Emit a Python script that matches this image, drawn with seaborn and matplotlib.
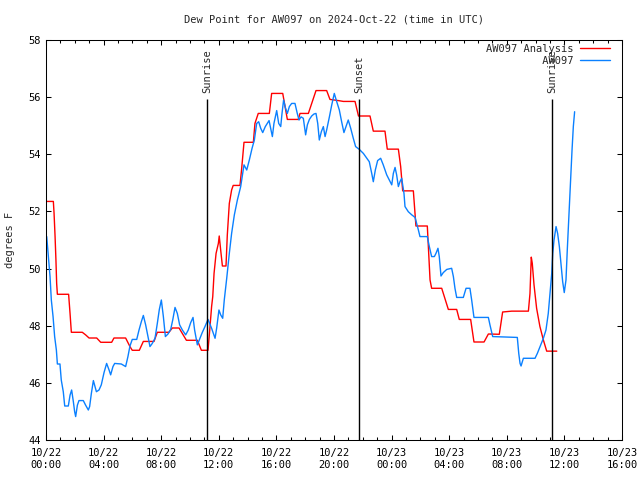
import matplotlib
matplotlib.use('Agg')
import matplotlib.pyplot as plt
import matplotlib.dates as mdates
import seaborn as sns
import pandas as pd

# =============================================================================
# Data (hours after 2024-10-22 00:00 UTC, deg F)

red_hr = [0.05, 0.51, 0.56, 0.63, 0.69, 0.74, 0.79, 1.57, 1.67, 1.76,
          2.52, 2.75, 2.99, 3.52, 3.80, 4.56, 4.72, 5.53, 5.83, 5.99,
          6.48, 6.76, 7.50, 7.73, 8.54, 8.77, 9.24, 9.75, 10.51, 10.79,
          11.25, 11.37, 11.50, 11.58, 11.67, 11.81, 11.97, 12.03, 12.13, 12.25,
          12.50, 12.59, 12.73, 12.89, 13.00, 13.47, 13.59, 13.75, 14.40, 14.51,
          14.74, 15.51, 15.67, 16.44, 16.76, 17.52, 17.64, 18.22, 18.75, 19.49,
          19.72, 20.30, 20.65, 21.46, 21.70, 22.50, 22.73, 23.54, 23.70, 24.47,
          24.63, 24.77, 25.51, 25.69, 26.48, 26.67, 26.78, 27.48, 27.94, 28.52,
          28.70, 29.49, 29.72, 30.42, 30.72, 31.48, 31.71, 32.34, 33.50, 33.61,
          33.70, 33.77, 33.89, 34.07, 34.30, 34.54, 34.77, 35.47]
red_val = [52.35, 52.35, 51.93, 51.12, 50.30, 49.48, 49.10, 49.10, 48.43, 47.77,
           47.77, 47.68, 47.57, 47.57, 47.42, 47.42, 47.57, 47.57, 47.27, 47.14,
           47.14, 47.45, 47.45, 47.77, 47.77, 47.92, 47.92, 47.49, 47.49, 47.14,
           47.14, 47.85, 48.67, 49.02, 49.83, 50.53, 50.88, 51.14, 50.65, 50.09,
           50.09, 51.17, 52.28, 52.75, 52.91, 52.91, 53.51, 54.42, 54.42, 55.08,
           55.43, 55.43, 56.13, 56.13, 55.22, 55.22, 55.43, 55.43, 56.23, 56.23,
           55.92, 55.88, 55.85, 55.85, 55.34, 55.34, 54.81, 54.81, 54.18, 54.18,
           53.57, 52.72, 52.72, 51.49, 51.49, 49.60, 49.31, 49.31, 48.57, 48.57,
           48.22, 48.22, 47.43, 47.43, 47.71, 47.70, 48.48, 48.51, 48.51, 49.13,
           50.40, 50.18, 49.43, 48.61, 47.97, 47.50, 47.11, 47.11]

blue_hr = [0.05, 0.14, 0.28, 0.37, 0.49, 0.60, 0.72, 0.79, 0.97, 1.06,
           1.20, 1.30, 1.55, 1.67, 1.78, 1.90, 1.99, 2.06, 2.18, 2.29,
           2.59, 2.75, 2.94, 3.03, 3.15, 3.29, 3.50, 3.68, 3.84, 4.03,
           4.21, 4.38, 4.49, 4.65, 4.77, 5.23, 5.53, 5.69, 5.83, 5.99,
           6.30, 6.46, 6.62, 6.76, 6.92, 7.08, 7.22, 7.38, 7.57, 7.73,
           7.87, 8.01, 8.15, 8.29, 8.47, 8.66, 8.80, 8.96, 9.12, 9.28,
           9.47, 9.70, 9.88, 10.05, 10.21, 10.32, 10.51, 10.69, 10.85, 11.04,
           11.25, 11.50, 11.74, 11.85, 12.01, 12.13, 12.27, 12.38, 12.55, 12.73,
           12.89, 13.08, 13.29, 13.52, 13.75, 13.94, 14.12, 14.31, 14.47, 14.63,
           14.77, 14.91, 15.05, 15.23, 15.49, 15.60, 15.72, 15.83, 16.02, 16.16,
           16.30, 16.39, 16.50, 16.62, 16.76, 16.90, 17.06, 17.29, 17.45, 17.57,
           17.71, 17.87, 18.03, 18.15, 18.29, 18.45, 18.61, 18.75, 18.87, 18.98,
           19.12, 19.26, 19.38, 19.49, 19.68, 19.84, 20.02, 20.19, 20.37, 20.53,
           20.69, 20.83, 20.99, 21.16, 21.34, 21.50, 21.76, 22.04, 22.45, 22.62,
           22.73, 22.87, 23.03, 23.24, 23.42, 23.66, 23.84, 24.01, 24.12, 24.24,
           24.35, 24.47, 24.58, 24.70, 24.86, 24.93, 25.16, 25.40, 25.63, 25.74,
           25.86, 25.97, 26.48, 26.62, 26.78, 26.97, 27.08, 27.22, 27.31, 27.43,
           27.59, 27.83, 28.17, 28.29, 28.40, 28.52, 28.98, 29.17, 29.44, 29.56,
           29.72, 30.72, 30.83, 31.02, 32.73, 32.83, 32.92, 32.99, 33.15, 33.96,
           34.12, 34.31, 34.54, 34.72, 34.88, 35.00, 35.12, 35.19, 35.28, 35.42,
           35.53, 35.65, 35.76, 35.88, 35.99, 36.11, 36.20, 36.32, 36.44, 36.53,
           36.62, 36.71]
blue_val = [51.12, 50.59, 49.72, 48.90, 48.32, 47.62, 47.15, 46.66, 46.66, 46.10,
            45.69, 45.19, 45.19, 45.57, 45.75, 45.34, 44.99, 44.82, 45.22, 45.38,
            45.38, 45.22, 45.05, 45.17, 45.63, 46.08, 45.69, 45.75, 45.93, 46.36,
            46.68, 46.45, 46.28, 46.57, 46.68, 46.66, 46.57, 46.92, 47.29, 47.52,
            47.52, 47.85, 48.14, 48.36, 48.03, 47.62, 47.27, 47.38, 47.56, 48.08,
            48.57, 48.90, 48.32, 47.62, 47.71, 47.87, 48.20, 48.64, 48.43, 48.03,
            47.85, 47.68, 47.85, 48.11, 48.29, 47.85, 47.33, 47.56, 47.76, 47.97,
            48.22, 47.91, 47.56, 47.91, 48.55, 48.38, 48.26, 48.90, 49.66, 50.53,
            51.23, 51.88, 52.40, 52.87, 53.63, 53.45, 53.80, 54.21, 54.50, 55.08,
            55.14, 54.91, 54.76, 54.97, 55.18, 54.91, 54.62, 55.08, 55.53, 55.08,
            54.97, 55.43, 55.90, 55.64, 55.43, 55.67, 55.78, 55.78, 55.43, 55.20,
            55.31, 55.26, 54.68, 55.03, 55.22, 55.34, 55.41, 55.43, 55.08, 54.50,
            54.79, 54.97, 54.62, 54.85, 55.31, 55.72, 56.13, 55.84, 55.55, 55.14,
            54.76, 54.97, 55.20, 54.91, 54.56, 54.27, 54.17, 54.03, 53.74, 53.33,
            53.04, 53.45, 53.78, 53.86, 53.63, 53.28, 53.10, 52.93, 53.33, 53.54,
            53.28, 52.87, 53.04, 53.16, 52.63, 52.17, 51.99, 51.88, 51.79, 51.58,
            51.35, 51.12, 51.12, 50.77, 50.42, 50.42, 50.53, 50.71, 50.42, 49.74,
            49.86, 49.97, 50.01, 49.72, 49.31, 48.99, 48.99, 49.31, 49.31, 48.90,
            48.29, 48.29, 48.03, 47.62, 47.59, 47.03, 46.68, 46.59, 46.86, 46.86,
            47.03, 47.27, 47.56, 47.85, 48.43, 49.13, 49.83, 50.53, 51.00, 51.47,
            51.23, 50.77, 50.18, 49.54, 49.16, 49.60, 50.65, 51.93, 53.16, 54.15,
            54.97, 55.49]

sun_hr  = [11.18, 21.76, 35.16]
sun_lbl = ['Sunrise', 'Sunset', 'Sunrise']
sun_top = 55.93

lbl_red  = 'AW097 Analysis'
lbl_blue = 'AW097'
t0 = pd.Timestamp('2024-10-22 00:00')

# =============================================================================
sns.set_style('ticks')
plt.rcParams['font.family'] = ['DejaVu Sans Mono']
plt.rcParams['font.size'] = 7.5

pd_red = pd.DataFrame({'time': t0 + pd.to_timedelta(red_hr, unit='h'), 'dewpt': red_val})
pd_blue = pd.DataFrame({'time': t0 + pd.to_timedelta(blue_hr, unit='h'), 'dewpt': blue_val})
sun_t = t0 + pd.to_timedelta(sun_hr, unit='h')

fig = plt.figure(figsize=(6.4, 4.8), dpi=100)
ax = fig.add_axes([46/640, 40/480, 576/640, 400/480])

sns.lineplot(data=pd_red, x='time', y='dewpt', ax=ax, color='#ff0000', lw=1.0,
             sort=False, estimator=None, label=lbl_red)
sns.lineplot(data=pd_blue, x='time', y='dewpt', ax=ax, color='#0a80ff', lw=1.0,
             sort=False, estimator=None, label=lbl_blue.rjust(len(lbl_red)))

ax.vlines(sun_t, 44, sun_top, colors='k', lw=1.0)
for tt, ll in zip(sun_t, sun_lbl):
    ax.text(tt, sun_top + 0.22, ll, rotation=90, ha='center', va='bottom', fontsize=7.5)

ax.set_xlim(t0, t0 + pd.Timedelta(hours=40))
ax.set_ylim(44, 58)
ax.set_yticks(range(44, 59, 2))
ax.xaxis.set_major_locator(mdates.HourLocator(byhour=range(0, 24, 4)))
ax.xaxis.set_minor_locator(mdates.HourLocator())
ax.xaxis.set_major_formatter(mdates.DateFormatter('%m/%d\n%H:%M'))
ax.set_xlabel('')
ax.set_ylabel('')

ax.tick_params(which='both', direction='in', top=True, right=True, width=0.75, colors='k')
ax.tick_params(which='major', length=3.4, pad=4)
ax.tick_params(which='minor', length=2.0)
ax.tick_params(axis='x', which='major', pad=6)
for sp in ax.spines.values():
    sp.set_visible(True)
    sp.set_linewidth(0.75)
    sp.set_color('k')

ax.legend(loc='upper right', bbox_to_anchor=((610-46)/576, 1 - 4/400), frameon=False,
          markerfirst=False, handlelength=2.9, handletextpad=0.6, labelspacing=0.15,
          borderpad=0, borderaxespad=0, fontsize=7.5)

fig.text(334/640, 1 - 19/480, 'Dew Point for AW097 on 2024-Oct-22 (time in UTC)',
         ha='center', va='center', fontsize=7.5)
fig.text(10/640, 240/480, 'degrees F', rotation=90, ha='center', va='center', fontsize=7.5)

fig.savefig('out.png', dpi=100)
plt.close('all')
